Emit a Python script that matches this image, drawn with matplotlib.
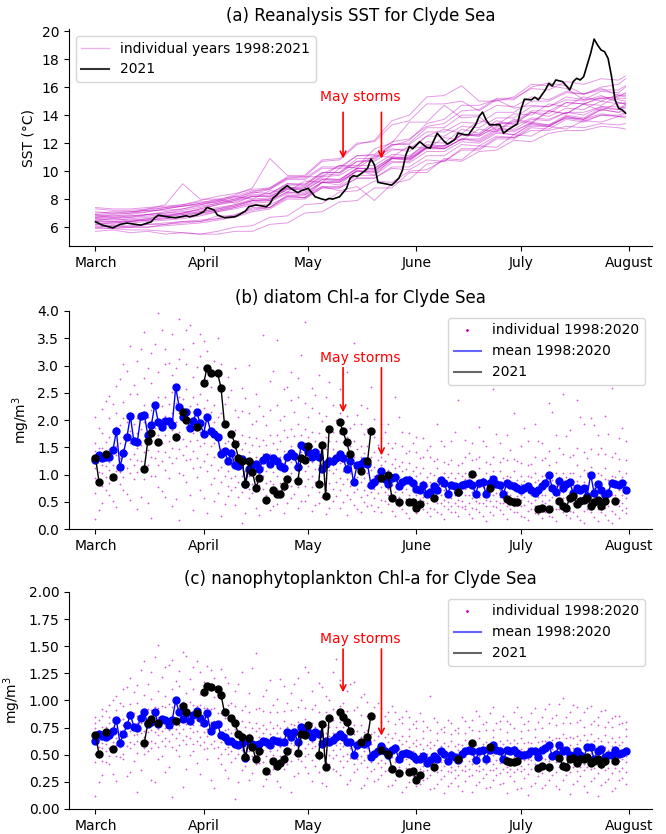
"""
Clyde Sea SST and phytoplankton Chl-a, spring/summer 2021 against 1998-2020.
"""
import numpy as np
import matplotlib
matplotlib.use('Agg')
import matplotlib.pyplot as plt
import matplotlib.dates as mdates
from matplotlib.lines import Line2D

# ---------------------------------------------------------------- data
# days are counted from 1 March
START = np.datetime64('2021-03-01')

# SST of the individual years, one value every 5 days
sst_days = [0, 5, 10, 15, 20, 25, 30, 35, 40, 45, 50, 55, 60, 65, 70, 75,
            80, 85, 90, 95, 100, 105, 110, 115, 120, 125, 130, 135, 140, 145, 150, 152]
sst_years = [
    [7.4, 7.3, 7.3, 7.4, 7.5, 7.6, 7.8, 7.9, 8.1, 8.5, 8.4, 9.1, 9.0, 9.8, 10.4, 10.2, 11.0, 11.6, 11.4, 12.5, 13.0, 12.7, 13.6, 13.3, 14.1, 14.0, 14.8, 14.6, 15.3, 15.0, 15.5, 15.5],
    [5.7, 5.8, 5.6, 5.7, 5.5, 5.6, 5.5, 5.7, 6.0, 6.1, 6.7, 6.8, 7.6, 7.7, 8.5, 8.6, 9.3, 9.2, 10.0, 10.1, 10.8, 10.7, 11.4, 11.5, 12.2, 12.1, 12.7, 12.9, 12.9, 13.2, 13.1, 13.0],
    [6.2, 6.1, 6.0, 6.2, 6.2, 6.4, 6.4, 6.8, 6.8, 7.4, 7.4, 8.3, 8.1, 9.2, 9.0, 10.1, 9.7, 10.9, 11.0, 12.1, 12.0, 13.0, 12.7, 13.6, 13.3, 14.2, 13.9, 14.5, 14.4, 15.0, 14.8, 14.9],
    [6.9, 6.8, 6.9, 7.1, 7.3, 7.5, 7.7, 7.8, 8.2, 8.0, 8.6, 8.5, 9.3, 9.2, 10.2, 10.3, 11.6, 12.0, 13.5, 13.5, 14.7, 13.8, 13.9, 12.9, 13.7, 13.5, 14.3, 14.1, 14.8, 14.3, 14.9, 14.8],
    [6.8, 6.9, 7.0, 7.3, 7.6, 9.1, 8.0, 8.0, 7.7, 8.2, 8.2, 8.8, 8.6, 9.4, 9.3, 10.0, 10.0, 10.9, 10.8, 11.7, 11.6, 12.3, 12.1, 12.8, 12.6, 13.4, 13.2, 13.9, 13.7, 14.4, 14.2, 14.6],
    [6.5, 6.6, 6.7, 6.9, 7.1, 7.3, 7.6, 7.9, 8.3, 8.8, 10.9, 9.7, 9.6, 9.6, 10.4, 10.4, 11.1, 11.0, 11.8, 11.6, 12.4, 12.2, 13.0, 12.8, 13.6, 13.4, 14.3, 14.1, 14.8, 14.7, 15.4, 15.4],
    [6.4, 6.4, 6.5, 6.6, 6.8, 7.0, 7.3, 7.6, 7.9, 8.4, 8.7, 9.5, 9.6, 10.7, 10.8, 11.9, 12.2, 13.6, 14.0, 15.3, 15.4, 16.1, 15.0, 15.0, 15.3, 16.2, 16.1, 15.9, 15.1, 15.2, 15.3, 15.6],
    [6.0, 5.9, 5.8, 5.8, 5.7, 5.6, 5.5, 5.5, 5.7, 5.7, 6.2, 6.3, 7.0, 7.1, 7.8, 7.9, 8.8, 8.8, 9.9, 9.9, 10.9, 10.8, 11.8, 11.7, 12.6, 12.5, 13.2, 13.0, 13.6, 13.5, 13.9, 13.9],
    [7.0, 7.1, 7.1, 7.2, 7.2, 7.3, 7.5, 7.7, 7.9, 8.2, 8.2, 8.8, 8.8, 9.5, 9.4, 10.2, 10.2, 11.0, 10.9, 11.7, 11.6, 12.3, 12.3, 13.0, 13.0, 13.7, 13.6, 14.2, 14.0, 14.6, 14.4, 14.7],
    [6.7, 6.7, 6.8, 6.9, 7.0, 7.2, 7.4, 7.7, 8.0, 8.5, 8.8, 9.6, 9.7, 10.8, 10.9, 12.0, 12.1, 13.3, 13.6, 14.8, 14.8, 15.0, 14.3, 15.1, 15.1, 16.0, 16.3, 16.1, 15.5, 16.0, 16.2, 16.6],
    [6.3, 6.2, 6.3, 6.4, 6.5, 6.6, 6.8, 7.1, 7.4, 7.8, 7.9, 8.5, 8.5, 9.2, 9.2, 10.0, 9.9, 10.7, 10.6, 11.4, 11.4, 12.1, 12.0, 12.7, 12.6, 13.3, 13.2, 13.8, 13.6, 14.0, 14.0, 14.2],
    [7.3, 7.2, 7.2, 7.3, 7.4, 7.5, 7.6, 7.8, 8.0, 8.3, 8.4, 9.1, 9.1, 9.9, 9.9, 10.7, 10.7, 11.5, 11.6, 12.5, 12.5, 13.2, 13.1, 13.8, 13.8, 14.6, 14.6, 15.3, 15.1, 15.7, 15.6, 16.0],
    [6.1, 6.0, 6.0, 6.0, 6.1, 6.2, 6.3, 6.5, 6.7, 7.1, 7.3, 8.0, 8.0, 8.8, 8.8, 9.5, 9.5, 10.2, 10.1, 10.8, 10.7, 11.5, 11.5, 12.3, 12.3, 13.1, 13.0, 13.7, 13.5, 14.0, 13.9, 14.1],
    [6.6, 6.5, 6.6, 6.7, 6.8, 6.9, 7.0, 7.2, 7.4, 7.7, 7.8, 8.4, 8.3, 8.9, 8.6, 8.9, 7.9, 9.1, 9.4, 10.5, 10.7, 11.6, 11.6, 12.4, 12.4, 13.2, 13.2, 13.9, 13.7, 14.4, 14.2, 14.3],
    [6.9, 7.0, 7.0, 7.1, 7.3, 7.5, 7.7, 8.0, 8.2, 8.6, 8.7, 9.4, 9.4, 10.2, 10.2, 11.1, 11.2, 12.1, 12.3, 13.2, 13.4, 14.3, 14.4, 15.2, 15.2, 15.9, 15.8, 16.4, 16.2, 16.6, 16.5, 16.8],
    [6.4, 6.3, 6.4, 6.5, 6.6, 6.8, 7.0, 7.2, 7.5, 7.9, 8.0, 8.7, 8.7, 9.4, 9.4, 10.2, 10.1, 10.9, 10.8, 11.6, 11.6, 12.3, 12.2, 12.9, 12.8, 13.5, 13.3, 14.0, 13.8, 14.5, 14.4, 14.8],
    [5.9, 5.9, 6.0, 6.0, 6.2, 6.3, 6.4, 6.6, 6.8, 7.2, 7.4, 8.2, 8.3, 9.2, 9.3, 10.2, 10.2, 11.0, 11.0, 11.8, 11.8, 12.6, 12.6, 13.4, 13.4, 14.2, 14.1, 14.9, 14.8, 15.3, 15.2, 15.2],
    [6.7, 6.8, 6.8, 6.9, 7.0, 7.1, 7.2, 7.4, 7.6, 7.9, 7.9, 8.5, 8.4, 9.2, 9.2, 10.0, 10.0, 10.9, 10.9, 11.7, 11.8, 12.6, 12.5, 13.1, 12.9, 13.4, 13.3, 13.8, 13.7, 14.1, 13.9, 13.8],
    [6.2, 6.3, 6.4, 6.6, 6.8, 7.0, 7.3, 7.6, 7.8, 8.2, 8.3, 9.0, 9.0, 9.9, 9.9, 10.9, 10.9, 11.9, 12.0, 13.1, 13.1, 14.0, 14.0, 14.7, 14.6, 15.3, 15.1, 15.7, 15.5, 15.9, 15.4, 15.3],
    [6.6, 6.6, 6.5, 6.5, 6.6, 6.7, 6.9, 7.1, 7.3, 7.6, 7.6, 8.2, 8.1, 8.8, 8.8, 9.5, 9.5, 10.3, 10.3, 11.1, 11.1, 11.9, 11.8, 12.5, 12.4, 12.9, 12.9, 13.2, 13.1, 13.4, 13.3, 13.4],
    [7.1, 7.0, 7.1, 7.2, 7.4, 7.6, 7.9, 8.2, 8.4, 8.7, 8.8, 9.5, 9.5, 10.3, 10.3, 11.1, 11.1, 11.9, 11.9, 12.8, 12.8, 13.5, 13.4, 14.2, 14.2, 15.0, 15.0, 15.6, 15.5, 15.8, 15.8, 16.1],
    [6.0, 6.1, 6.1, 6.2, 6.3, 6.4, 6.5, 6.6, 6.9, 7.3, 7.4, 8.1, 8.1, 8.9, 8.9, 9.7, 9.7, 10.6, 10.7, 11.7, 11.7, 12.6, 12.5, 13.2, 13.2, 13.8, 13.7, 14.2, 14.2, 14.6, 14.6, 14.5],
    [6.5, 6.4, 6.4, 6.5, 6.7, 6.9, 7.1, 7.3, 7.5, 7.9, 8.0, 8.7, 8.8, 9.7, 9.8, 10.7, 10.8, 11.8, 12.2, 13.4, 13.7, 14.7, 14.7, 15.1, 14.5, 14.7, 14.6, 15.1, 15.0, 15.4, 14.9, 14.8],
    [6.8, 6.7, 6.7, 6.8, 6.9, 7.0, 7.1, 7.3, 7.6, 8.0, 8.1, 8.8, 8.9, 9.6, 9.7, 10.4, 10.4, 11.2, 11.1, 11.9, 11.8, 12.6, 12.6, 13.4, 13.5, 14.3, 14.3, 14.9, 14.8, 15.2, 15.1, 15.0],
]

# SST 2021
sst21_days = [0, 2, 5, 7, 9, 13, 16, 17, 18, 21, 23, 26, 27, 29, 31, 32, 34, 35, 37, 40,
              41, 43, 44, 46, 49, 50, 51, 52, 53, 55, 56, 58, 59, 61, 63, 65, 66, 67, 68, 70,
              72, 73, 74, 75, 77, 78, 79, 80, 81, 85, 87, 88, 89, 90, 91, 93, 95, 96, 98, 100,
              101, 103, 104, 106, 107, 109, 110, 111, 112, 113, 116, 117, 118, 119, 121, 122, 123, 125, 126, 127,
              129, 130, 131, 132, 134, 136, 137, 138, 139, 140, 141, 142, 143, 144, 145, 146, 147, 148, 149, 150,
              151, 152]
sst21 = [6.38, 6.14, 5.95, 6.19, 6.29, 6.14, 6.38, 6.67, 6.86, 6.72, 6.67, 6.81, 6.74, 6.86, 7.10, 7.41, 7.22, 6.86, 6.67, 6.74,
         6.86, 7.15, 7.46, 7.58, 7.46, 7.67, 8.10, 8.29, 8.60, 8.96, 8.77, 8.46, 8.60, 8.77, 8.17, 8.00, 7.94, 8.05, 8.00, 8.17,
         8.77, 9.49, 9.68, 9.61, 9.97, 10.20, 10.87, 10.44, 9.20, 9.00, 9.49, 10.04, 11.16, 11.76, 11.60, 12.10, 11.69, 11.64, 12.71, 12.12,
         11.93, 12.24, 12.71, 12.60, 12.60, 13.31, 13.90, 14.22, 13.67, 13.31, 13.31, 12.71, 12.90, 13.07, 13.38, 14.38, 15.14, 15.09, 15.28, 15.09,
         15.80, 16.27, 16.08, 16.51, 16.39, 15.80, 16.40, 16.63, 16.51, 16.75, 17.58, 18.41, 19.43, 19.00, 18.65, 18.53, 18.05, 16.75, 15.09, 14.50,
         14.38, 14.14]

# daily climatological mean 1998:2020, days 0..152
mean_days = list(range(153))
diatom_mean = [
    1.27, 1.35, 1.30, 1.32, 1.33, 1.45, 1.80, 1.14, 1.39, 1.68,
    2.07, 1.61, 1.60, 2.07, 2.10, 1.72, 1.90, 2.28, 1.97, 1.88,
    1.98, 1.98, 1.91, 2.60, 2.24, 2.06, 2.15, 1.85, 1.98, 2.15,
    1.94, 1.75, 2.05, 1.80, 1.74, 1.69, 1.38, 1.44, 1.24, 1.39,
    1.17, 1.15, 1.29, 0.82, 1.11, 1.17, 1.19, 1.11, 1.26, 1.32,
    1.19, 1.30, 1.24, 1.16, 1.12, 1.33, 1.39, 1.34, 1.14, 1.55,
    1.51, 1.42, 1.33, 1.42, 1.33, 1.11, 1.20, 1.24, 1.24, 1.31,
    1.37, 1.30, 1.11, 1.25, 0.86, 1.17, 1.20, 1.25, 1.19, 0.81,
    0.87, 0.93, 1.06, 0.92, 0.82, 0.93, 0.96, 0.78, 0.87, 0.90,
    0.90, 0.84, 0.73, 0.72, 0.80, 0.65, 0.68, 0.78, 0.72, 0.89,
    0.84, 0.65, 0.81, 0.78, 0.68, 0.81, 0.83, 0.84, 0.81, 0.65,
    0.84, 0.87, 0.65, 0.84, 0.92, 0.82, 0.81, 0.65, 0.84, 0.81,
    0.78, 0.75, 0.72, 0.75, 0.78, 0.72, 0.66, 0.72, 0.78, 0.84,
    1.00, 0.75, 0.67, 0.88, 0.75, 0.83, 0.86, 0.66, 0.75, 0.72,
    0.75, 0.61, 1.00, 0.66, 0.83, 0.72, 0.63, 0.66, 0.85, 0.83,
    0.81, 0.84, 0.71]
nano_mean = [
    0.63, 0.69, 0.67, 0.66, 0.68, 0.72, 0.82, 0.61, 0.69, 0.77,
    0.87, 0.76, 0.75, 0.84, 0.89, 0.78, 0.80, 0.89, 0.78, 0.83,
    0.82, 0.77, 0.82, 1.00, 0.89, 0.83, 0.88, 0.81, 0.87, 0.90,
    0.84, 0.79, 0.88, 0.72, 0.77, 0.78, 0.68, 0.66, 0.63, 0.63,
    0.60, 0.59, 0.61, 0.47, 0.62, 0.60, 0.59, 0.60, 0.63, 0.62,
    0.59, 0.64, 0.63, 0.62, 0.62, 0.71, 0.66, 0.71, 0.62, 0.76,
    0.72, 0.71, 0.66, 0.71, 0.69, 0.60, 0.63, 0.62, 0.64, 0.66,
    0.69, 0.66, 0.62, 0.62, 0.50, 0.59, 0.61, 0.60, 0.62, 0.48,
    0.51, 0.53, 0.58, 0.53, 0.50, 0.54, 0.56, 0.46, 0.51, 0.52,
    0.51, 0.49, 0.46, 0.46, 0.49, 0.42, 0.45, 0.49, 0.46, 0.53,
    0.51, 0.44, 0.50, 0.48, 0.45, 0.51, 0.53, 0.54, 0.53, 0.45,
    0.53, 0.54, 0.46, 0.54, 0.59, 0.54, 0.53, 0.46, 0.54, 0.53,
    0.54, 0.52, 0.50, 0.50, 0.51, 0.53, 0.53, 0.48, 0.54, 0.56,
    0.59, 0.49, 0.51, 0.59, 0.53, 0.54, 0.50, 0.49, 0.53, 0.50,
    0.47, 0.57, 0.57, 0.46, 0.53, 0.55, 0.48, 0.50, 0.50, 0.54,
    0.51, 0.52, 0.53]

# 2021 satellite days with valid data
obs21_days = [0, 1, 3, 5, 14, 15, 16, 18, 23, 25, 26, 29, 31, 32, 33, 35, 36, 37, 39, 40,
              41, 42, 43, 44, 45, 46, 47, 49, 51, 52, 53, 54, 55, 58, 59, 60, 61, 64, 65, 66,
              67, 70, 71, 72, 73, 76, 78, 79, 82, 84, 85, 87, 90, 91, 92, 93, 97, 104, 108, 113,
              118, 119, 120, 121, 127, 128, 130, 133, 134, 135, 136, 137, 138, 139, 140, 141, 142, 143, 144, 145,
              146, 149]
diatom21 = [1.31, 0.87, 1.37, 0.96, 1.11, 1.62, 1.76, 1.59, 1.68, 2.15, 2.00, 1.87, 2.67, 2.96, 2.86, 2.86, 2.59, 1.92, 1.74, 1.56,
            1.30, 1.25, 0.83, 1.24, 1.05, 0.76, 0.93, 0.53, 0.72, 0.64, 0.65, 0.78, 0.92, 0.88, 1.30, 1.27, 1.53, 0.83, 1.55, 0.61,
            1.83, 1.97, 1.79, 1.59, 1.37, 1.06, 1.24, 1.80, 0.93, 1.00, 0.57, 0.49, 0.49, 0.50, 0.38, 0.45, 0.56, 0.67, 1.01, 0.76,
            0.55, 0.52, 0.50, 0.49, 0.36, 0.39, 0.37, 0.51, 0.43, 0.39, 0.57, 0.61, 0.46, 0.51, 0.54, 0.57, 0.43, 0.49, 0.54, 0.43,
            0.52, 0.51]
nano21 = [0.68, 0.51, 0.71, 0.55, 0.61, 0.79, 0.83, 0.79, 0.81, 0.95, 0.89, 0.88, 1.08, 1.13, 1.12, 1.11, 1.05, 0.89, 0.84, 0.79,
          0.69, 0.66, 0.48, 0.65, 0.57, 0.46, 0.53, 0.35, 0.44, 0.40, 0.42, 0.46, 0.53, 0.52, 0.69, 0.68, 0.77, 0.50, 0.78, 0.39,
          0.84, 0.89, 0.85, 0.80, 0.72, 0.62, 0.66, 0.86, 0.54, 0.51, 0.37, 0.33, 0.34, 0.35, 0.27, 0.31, 0.39, 0.46, 0.61, 0.57,
          0.44, 0.43, 0.43, 0.44, 0.38, 0.40, 0.39, 0.47, 0.40, 0.39, 0.46, 0.47, 0.42, 0.46, 0.46, 0.48, 0.42, 0.44, 0.46, 0.41,
          0.44, 0.44]

# individual years 1998:2020, a sample of values on even and odd days
even_days = list(range(0, 153, 2))
odd_days = list(range(1, 152, 2))
diatom_even = [
    [0.18, 0.66, 0.93, 1.12, 1.22, 1.43, 1.58, 2.05], [0.47, 0.79, 1.03, 1.18, 1.37, 1.49, 1.77, 2.21],
    [0.62, 0.84, 1.08, 1.23, 1.46, 1.68, 2.03, 2.44], [0.41, 0.91, 1.07, 1.36, 1.52, 1.88, 2.13, 2.62],
    [0.72, 0.96, 1.18, 1.47, 1.68, 2.03, 2.33, 3.02], [0.53, 1.02, 1.28, 1.57, 1.79, 2.12, 2.48, 3.36],
    [0.36, 1.04, 1.27, 1.48, 1.77, 2.03, 2.47, 3.08], [0.91, 1.13, 1.42, 1.63, 1.97, 2.28, 2.77, 3.61],
    [0.21, 0.98, 1.32, 1.58, 1.92, 2.18, 2.67, 3.23], [0.77, 1.17, 1.43, 1.72, 1.98, 2.42, 2.88, 3.96],
    [0.58, 1.08, 1.42, 1.73, 2.07, 2.43, 3.02, 3.31], [0.42, 1.22, 1.48, 1.82, 2.13, 2.52, 2.83, 3.57],
    [0.16, 1.03, 1.47, 1.78, 2.12, 2.43, 3.12, 3.86], [0.86, 1.27, 1.53, 1.87, 2.13, 2.57, 3.03, 3.66],
    [0.34, 1.12, 1.43, 1.77, 2.03, 2.42, 2.78, 3.42], [0.71, 1.13, 1.52, 1.78, 2.12, 2.48, 3.17, 3.58],
    [0.29, 1.07, 1.38, 1.72, 1.98, 2.37, 2.73, 3.27], [0.52, 0.93, 1.32, 1.58, 1.97, 2.28, 2.87, 3.08],
    [0.24, 0.87, 1.13, 1.47, 1.73, 2.12, 2.58, 3.02], [0.61, 0.78, 1.07, 1.28, 1.62, 1.93, 2.42, 2.78],
    [0.44, 0.77, 0.98, 1.27, 1.48, 1.82, 2.18, 2.96], [0.11, 0.68, 0.97, 1.18, 1.47, 1.73, 2.17, 2.58],
    [0.56, 0.73, 0.97, 1.13, 1.42, 1.68, 2.12, 3.01], [0.39, 0.72, 0.88, 1.12, 1.33, 1.67, 1.98, 2.47],
    [0.51, 0.73, 0.97, 1.13, 1.37, 1.63, 2.07, 3.56], [0.34, 0.72, 0.88, 1.17, 1.38, 1.72, 2.18, 2.72],
    [0.46, 0.73, 0.97, 1.18, 1.47, 1.73, 2.27, 3.46], [0.29, 0.72, 0.93, 1.22, 1.43, 1.82, 2.08, 2.57],
    [0.57, 0.78, 1.02, 1.23, 1.52, 1.83, 2.37, 2.88], [0.38, 0.77, 0.98, 1.27, 1.53, 1.92, 2.43, 2.77],
    [0.52, 0.78, 1.07, 1.28, 1.57, 1.83, 2.32, 3.79], [0.33, 0.77, 0.98, 1.23, 1.52, 1.78, 2.22, 2.58],
    [0.47, 0.68, 0.97, 1.18, 1.43, 1.77, 2.12, 2.83], [0.28, 0.72, 0.93, 1.22, 1.47, 1.68, 2.07, 2.42],
    [0.52, 0.73, 1.02, 1.18, 1.47, 1.78, 2.27, 3.13], [0.38, 0.72, 0.93, 1.22, 1.43, 1.77, 2.13, 2.57],
    [0.26, 0.63, 0.92, 1.13, 1.42, 1.68, 2.07, 2.88], [0.44, 0.67, 0.83, 1.12, 1.33, 1.62, 1.93, 3.42],
    [0.31, 0.58, 0.87, 1.03, 1.32, 1.53, 1.92, 2.28], [0.42, 0.62, 0.78, 1.02, 1.23, 1.52, 1.83, 2.22],
    [0.33, 0.57, 0.73, 0.97, 1.13, 1.42, 1.68, 2.02], [0.31, 0.53, 0.77, 0.93, 1.17, 1.33, 1.67, 1.93],
    [0.46, 0.62, 0.73, 0.92, 1.08, 1.37, 1.58, 1.92], [0.24, 0.52, 0.68, 0.92, 1.12, 1.28, 1.57, 2.42],
    [0.36, 0.48, 0.67, 0.83, 1.07, 1.23, 1.52, 1.78], [0.21, 0.47, 0.63, 0.82, 0.98, 1.22, 1.43, 1.77],
    [0.29, 0.43, 0.62, 0.73, 0.97, 1.13, 1.42, 1.68], [0.37, 0.52, 0.58, 0.77, 0.88, 1.12, 1.33, 1.67],
    [0.24, 0.38, 0.57, 0.68, 0.87, 1.03, 1.32, 1.53], [0.31, 0.47, 0.58, 0.77, 0.88, 1.12, 1.28, 1.92],
    [0.19, 0.42, 0.53, 0.72, 0.83, 1.02, 1.23, 1.52], [0.32, 0.43, 0.57, 0.68, 0.87, 1.03, 1.27, 1.62],
    [0.24, 0.42, 0.53, 0.72, 0.83, 1.02, 1.18, 2.37], [0.36, 0.43, 0.62, 0.73, 0.92, 1.03, 1.32, 1.63],
    [0.21, 0.38, 0.57, 0.68, 0.87, 1.03, 1.27, 1.57], [0.32, 0.47, 0.58, 0.77, 0.88, 1.12, 1.33, 1.87],
    [0.14, 0.42, 0.53, 0.72, 0.83, 1.02, 1.23, 1.52], [0.26, 0.43, 0.62, 0.73, 0.92, 1.07, 1.32, 2.56],
    [0.34, 0.47, 0.58, 0.72, 0.83, 1.07, 1.23, 1.57], [0.19, 0.42, 0.53, 0.68, 0.87, 0.98, 1.27, 1.72],
    [0.31, 0.43, 0.57, 0.72, 0.83, 1.07, 1.28, 2.12], [0.24, 0.42, 0.53, 0.63, 0.82, 0.98, 1.22, 1.53],
    [0.16, 0.33, 0.52, 0.67, 0.78, 0.97, 1.18, 1.62], [0.29, 0.42, 0.53, 0.72, 0.87, 1.03, 1.32, 1.93],
    [0.21, 0.33, 0.52, 0.63, 0.82, 0.98, 1.27, 1.57], [0.24, 0.42, 0.53, 0.72, 0.88, 1.17, 1.43, 2.32],
    [0.14, 0.37, 0.48, 0.67, 0.78, 1.02, 1.23, 1.72], [0.31, 0.43, 0.57, 0.68, 0.87, 1.03, 1.37, 2.48],
    [0.21, 0.33, 0.52, 0.63, 0.87, 1.03, 1.33, 1.82], [0.24, 0.42, 0.53, 0.72, 0.88, 1.17, 1.48, 2.37],
    [0.11, 0.33, 0.52, 0.63, 0.87, 1.08, 1.42, 1.93], [0.31, 0.38, 0.57, 0.68, 0.92, 1.13, 1.47, 2.03],
    [0.14, 0.37, 0.48, 0.67, 0.83, 1.03, 1.37, 1.73], [0.26, 0.38, 0.57, 0.68, 0.92, 1.12, 1.38, 2.07],
    [0.11, 0.33, 0.52, 0.63, 0.82, 0.98, 1.32, 2.58], [0.21, 0.42, 0.53, 0.72, 0.83, 1.07, 1.28, 1.67],
    [0.29, 0.38, 0.57, 0.68, 0.87, 1.03, 1.27, 1.62],
]
diatom_odd = [
    [0.35, 0.88, 1.05, 1.30, 1.48, 1.85], [0.72, 0.95, 1.15, 1.38, 1.60, 2.35], [0.52, 0.98, 1.17, 1.42, 1.78, 2.30],
    [0.83, 1.05, 1.30, 1.58, 1.90, 2.75], [0.64, 1.12, 1.40, 1.66, 1.96, 2.90], [0.92, 1.17, 1.38, 1.65, 1.93, 2.65],
    [0.58, 1.24, 1.55, 1.83, 2.12, 3.30], [0.48, 1.18, 1.45, 1.80, 2.05, 2.95], [0.98, 1.30, 1.58, 1.86, 2.22, 3.40],
    [0.69, 1.25, 1.57, 1.88, 2.25, 3.65], [0.93, 1.33, 1.62, 1.96, 2.30, 3.05], [0.55, 1.30, 1.63, 1.97, 2.32, 2.95],
    [0.99, 1.36, 1.66, 2.00, 2.38, 3.30], [0.62, 1.29, 1.62, 1.95, 2.26, 3.75], [0.95, 1.31, 1.64, 1.95, 2.30, 2.98],
    [0.56, 1.25, 1.58, 1.88, 2.22, 3.45], [0.82, 1.18, 1.52, 1.82, 2.15, 2.60], [0.66, 1.08, 1.40, 1.72, 2.05, 3.50],
    [0.45, 0.98, 1.28, 1.57, 1.88, 2.30], [0.71, 0.93, 1.18, 1.45, 1.75, 2.55], [0.58, 0.86, 1.10, 1.36, 1.62, 2.05],
    [0.30, 0.83, 1.06, 1.30, 1.58, 2.40], [0.66, 0.82, 1.04, 1.27, 1.55, 1.92], [0.25, 0.80, 1.02, 1.26, 1.52, 2.25],
    [0.62, 0.84, 1.06, 1.28, 1.55, 1.90], [0.43, 0.82, 1.04, 1.30, 1.58, 2.90], [0.60, 0.85, 1.08, 1.33, 1.62, 2.00],
    [0.48, 0.88, 1.12, 1.38, 1.68, 2.60], [0.65, 0.90, 1.14, 1.40, 1.70, 2.15], [0.52, 0.89, 1.15, 1.42, 1.72, 3.20],
    [0.63, 0.92, 1.16, 1.42, 1.68, 2.05], [0.44, 0.86, 1.10, 1.36, 1.62, 2.45], [0.58, 0.84, 1.08, 1.32, 1.60, 1.98],
    [0.38, 0.85, 1.09, 1.33, 1.62, 2.70], [0.60, 0.86, 1.10, 1.34, 1.62, 2.00], [0.49, 0.82, 1.06, 1.31, 1.60, 2.85],
    [0.55, 0.78, 1.02, 1.25, 1.52, 1.85], [0.37, 0.74, 0.96, 1.20, 1.46, 2.10], [0.50, 0.72, 0.93, 1.16, 1.40, 1.75],
    [0.44, 0.68, 0.88, 1.09, 1.32, 2.60], [0.40, 0.66, 0.85, 1.05, 1.27, 1.55], [0.52, 0.67, 0.84, 1.02, 1.24, 1.78],
    [0.33, 0.62, 0.80, 0.99, 1.20, 1.48], [0.43, 0.58, 0.76, 0.95, 1.16, 2.05], [0.29, 0.55, 0.73, 0.91, 1.10, 1.40],
    [0.38, 0.53, 0.70, 0.86, 1.06, 1.58], [0.41, 0.55, 0.68, 0.84, 1.02, 1.30], [0.32, 0.48, 0.63, 0.79, 0.96, 1.45],
    [0.36, 0.52, 0.67, 0.82, 1.00, 1.25], [0.27, 0.48, 0.62, 0.78, 0.94, 1.62], [0.37, 0.50, 0.63, 0.78, 0.95, 1.20],
    [0.31, 0.47, 0.62, 0.77, 0.93, 1.78], [0.41, 0.52, 0.67, 0.82, 0.98, 1.22], [0.28, 0.47, 0.62, 0.77, 0.95, 1.40],
    [0.36, 0.52, 0.66, 0.82, 0.99, 1.28], [0.23, 0.47, 0.61, 0.77, 0.93, 1.62], [0.32, 0.52, 0.67, 0.82, 0.98, 1.20],
    [0.41, 0.52, 0.66, 0.79, 0.96, 1.75], [0.27, 0.47, 0.61, 0.77, 0.93, 1.30], [0.37, 0.50, 0.63, 0.78, 0.95, 1.45],
    [0.31, 0.47, 0.60, 0.73, 0.90, 1.25], [0.22, 0.44, 0.58, 0.72, 0.88, 1.85], [0.36, 0.47, 0.62, 0.78, 0.95, 1.20],
    [0.27, 0.43, 0.58, 0.72, 0.90, 1.62], [0.32, 0.47, 0.62, 0.79, 1.00, 1.30], [0.22, 0.43, 0.58, 0.73, 0.90, 2.15],
    [0.37, 0.50, 0.63, 0.78, 0.96, 1.48], [0.26, 0.43, 0.58, 0.75, 0.95, 1.70], [0.31, 0.47, 0.62, 0.80, 1.02, 1.35],
    [0.17, 0.42, 0.58, 0.75, 0.97, 2.05], [0.36, 0.47, 0.62, 0.80, 1.02, 1.30], [0.22, 0.43, 0.58, 0.75, 0.95, 1.90],
    [0.32, 0.47, 0.62, 0.80, 1.00, 1.48], [0.17, 0.42, 0.58, 0.73, 0.90, 1.75], [0.27, 0.47, 0.62, 0.78, 0.95, 1.40],
    [0.35, 0.47, 0.62, 0.78, 0.95, 1.85],
]
nano_even = [
    [0.12, 0.43, 0.51, 0.61, 0.66, 0.75, 0.79, 0.85], [0.31, 0.44, 0.56, 0.61, 0.71, 0.76, 0.86, 0.92],
    [0.41, 0.49, 0.56, 0.65, 0.70, 0.79, 0.85, 0.96], [0.26, 0.49, 0.59, 0.65, 0.75, 0.81, 0.91, 1.04],
    [0.46, 0.51, 0.61, 0.67, 0.77, 0.83, 0.95, 1.11], [0.34, 0.56, 0.62, 0.72, 0.78, 0.89, 0.97, 1.21],
    [0.16, 0.52, 0.63, 0.69, 0.79, 0.86, 0.98, 1.14], [0.51, 0.56, 0.66, 0.72, 0.83, 0.91, 1.05, 1.36],
    [0.27, 0.56, 0.63, 0.73, 0.80, 0.91, 1.01, 1.26], [0.46, 0.57, 0.68, 0.74, 0.85, 0.93, 1.09, 1.51],
    [0.34, 0.58, 0.65, 0.75, 0.82, 0.94, 1.04, 1.31], [0.11, 0.57, 0.69, 0.75, 0.86, 0.94, 1.11, 1.37],
    [0.49, 0.59, 0.70, 0.77, 0.88, 0.96, 1.13, 1.27], [0.37, 0.60, 0.67, 0.78, 0.85, 0.97, 1.07, 1.41],
    [0.53, 0.60, 0.71, 0.77, 0.88, 0.96, 1.11, 1.31], [0.32, 0.59, 0.66, 0.77, 0.84, 0.96, 1.06, 1.26],
    [0.46, 0.56, 0.67, 0.74, 0.85, 0.93, 1.07, 1.32], [0.19, 0.56, 0.63, 0.74, 0.81, 0.93, 1.03, 1.21],
    [0.41, 0.51, 0.62, 0.69, 0.80, 0.88, 1.02, 1.29], [0.29, 0.51, 0.57, 0.67, 0.74, 0.86, 0.96, 1.16],
    [0.09, 0.47, 0.57, 0.63, 0.74, 0.81, 0.95, 1.09], [0.36, 0.48, 0.54, 0.64, 0.70, 0.81, 0.91, 1.26],
    [0.27, 0.46, 0.53, 0.63, 0.69, 0.80, 0.89, 1.07], [0.41, 0.45, 0.56, 0.62, 0.72, 0.79, 0.92, 1.44],
    [0.21, 0.43, 0.54, 0.60, 0.70, 0.77, 0.90, 1.04], [0.32, 0.46, 0.53, 0.63, 0.69, 0.80, 0.89, 1.19],
    [0.26, 0.43, 0.54, 0.60, 0.70, 0.77, 0.89, 1.01], [0.37, 0.47, 0.54, 0.64, 0.70, 0.81, 0.90, 1.13],
    [0.16, 0.44, 0.55, 0.61, 0.71, 0.78, 0.91, 1.07], [0.33, 0.46, 0.57, 0.63, 0.73, 0.80, 0.94, 1.21],
    [0.39, 0.49, 0.56, 0.66, 0.72, 0.83, 0.93, 1.31], [0.26, 0.45, 0.56, 0.62, 0.72, 0.79, 0.92, 1.09],
    [0.34, 0.46, 0.53, 0.63, 0.69, 0.80, 0.89, 1.16], [0.21, 0.43, 0.54, 0.60, 0.70, 0.77, 0.89, 1.04],
    [0.37, 0.47, 0.54, 0.64, 0.70, 0.82, 0.92, 1.26], [0.31, 0.44, 0.55, 0.61, 0.72, 0.80, 0.95, 1.19],
    [0.23, 0.44, 0.51, 0.61, 0.68, 0.80, 0.90, 1.09], [0.34, 0.41, 0.52, 0.58, 0.69, 0.77, 0.91, 1.17],
    [0.19, 0.42, 0.49, 0.59, 0.66, 0.77, 0.87, 1.03], [0.29, 0.39, 0.50, 0.56, 0.66, 0.73, 0.86, 0.99],
    [0.26, 0.37, 0.48, 0.54, 0.64, 0.71, 0.84, 0.94], [0.31, 0.39, 0.45, 0.55, 0.61, 0.72, 0.80, 0.93],
    [0.21, 0.36, 0.46, 0.52, 0.62, 0.69, 0.81, 0.89], [0.27, 0.37, 0.43, 0.53, 0.59, 0.70, 0.78, 0.89],
    [0.16, 0.34, 0.44, 0.50, 0.60, 0.67, 0.79, 0.85], [0.25, 0.35, 0.41, 0.51, 0.57, 0.67, 0.74, 0.85],
    [0.21, 0.32, 0.42, 0.48, 0.58, 0.64, 0.75, 0.81], [0.27, 0.35, 0.40, 0.49, 0.55, 0.65, 0.72, 0.81],
    [0.18, 0.31, 0.41, 0.46, 0.56, 0.62, 0.73, 1.04], [0.23, 0.34, 0.39, 0.48, 0.54, 0.64, 0.70, 0.80],
    [0.15, 0.30, 0.40, 0.45, 0.55, 0.61, 0.71, 0.76], [0.24, 0.34, 0.39, 0.48, 0.53, 0.63, 0.69, 0.79],
    [0.21, 0.31, 0.40, 0.45, 0.54, 0.60, 0.70, 0.75], [0.26, 0.35, 0.40, 0.49, 0.54, 0.64, 0.70, 0.81],
    [0.16, 0.31, 0.41, 0.46, 0.56, 0.62, 0.73, 0.82], [0.25, 0.35, 0.40, 0.49, 0.55, 0.65, 0.72, 0.86],
    [0.19, 0.32, 0.41, 0.46, 0.56, 0.62, 0.73, 0.80], [0.27, 0.36, 0.41, 0.50, 0.56, 0.66, 0.73, 0.94],
    [0.23, 0.33, 0.42, 0.47, 0.57, 0.63, 0.74, 0.81], [0.15, 0.34, 0.39, 0.48, 0.54, 0.64, 0.71, 0.81],
    [0.26, 0.34, 0.43, 0.48, 0.58, 0.64, 0.75, 0.89], [0.19, 0.35, 0.40, 0.49, 0.55, 0.65, 0.72, 0.85],
    [0.13, 0.32, 0.41, 0.46, 0.56, 0.62, 0.73, 0.81], [0.24, 0.36, 0.41, 0.50, 0.56, 0.66, 0.74, 0.93],
    [0.19, 0.33, 0.42, 0.47, 0.57, 0.63, 0.75, 0.85], [0.27, 0.35, 0.44, 0.49, 0.59, 0.66, 0.79, 0.97],
    [0.21, 0.34, 0.43, 0.48, 0.58, 0.65, 0.77, 0.87], [0.27, 0.38, 0.43, 0.52, 0.58, 0.69, 0.79, 1.02],
    [0.14, 0.34, 0.43, 0.49, 0.59, 0.66, 0.79, 0.89], [0.26, 0.35, 0.44, 0.50, 0.60, 0.67, 0.80, 0.94],
    [0.21, 0.36, 0.41, 0.51, 0.57, 0.68, 0.76, 0.89], [0.26, 0.37, 0.42, 0.52, 0.58, 0.69, 0.78, 0.95],
    [0.12, 0.33, 0.42, 0.48, 0.58, 0.65, 0.77, 0.85], [0.25, 0.36, 0.41, 0.51, 0.57, 0.68, 0.76, 0.91],
    [0.17, 0.33, 0.42, 0.48, 0.58, 0.65, 0.76, 0.84], [0.27, 0.35, 0.44, 0.49, 0.59, 0.66, 0.78, 0.86],
    [0.23, 0.34, 0.43, 0.49, 0.56, 0.67, 0.74, 0.80],
]
nano_odd = [
    [0.25, 0.48, 0.57, 0.64, 0.72, 0.82], [0.43, 0.53, 0.60, 0.68, 0.76, 0.90], [0.32, 0.54, 0.62, 0.70, 0.80, 1.00],
    [0.48, 0.57, 0.64, 0.72, 0.82, 0.98], [0.30, 0.58, 0.67, 0.76, 0.86, 1.12], [0.44, 0.60, 0.68, 0.77, 0.88, 1.08],
    [0.36, 0.61, 0.70, 0.79, 0.90, 1.28], [0.53, 0.62, 0.71, 0.80, 0.92, 1.15], [0.25, 0.61, 0.71, 0.81, 0.94, 1.40],
    [0.49, 0.63, 0.72, 0.82, 0.95, 1.22], [0.39, 0.63, 0.73, 0.83, 0.97, 1.33], [0.54, 0.65, 0.74, 0.84, 0.98, 1.18],
    [0.20, 0.64, 0.74, 0.84, 0.99, 1.45], [0.50, 0.65, 0.75, 0.85, 0.99, 1.20], [0.42, 0.63, 0.72, 0.82, 0.95, 1.36],
    [0.55, 0.62, 0.71, 0.81, 0.93, 1.17], [0.27, 0.60, 0.70, 0.80, 0.92, 1.28], [0.47, 0.57, 0.67, 0.77, 0.88, 1.10],
    [0.36, 0.55, 0.64, 0.73, 0.84, 1.22], [0.43, 0.53, 0.61, 0.70, 0.80, 0.98], [0.25, 0.51, 0.60, 0.68, 0.78, 1.15],
    [0.40, 0.50, 0.58, 0.67, 0.76, 0.95], [0.33, 0.49, 0.58, 0.66, 0.75, 1.30], [0.42, 0.50, 0.58, 0.66, 0.75, 0.93],
    [0.28, 0.49, 0.57, 0.65, 0.74, 1.10], [0.37, 0.50, 0.58, 0.66, 0.75, 0.96], [0.20, 0.49, 0.57, 0.66, 0.75, 1.20],
    [0.41, 0.50, 0.59, 0.67, 0.76, 0.98], [0.30, 0.51, 0.59, 0.68, 0.77, 1.15], [0.44, 0.52, 0.60, 0.69, 0.78, 1.00],
    [0.33, 0.51, 0.60, 0.68, 0.77, 1.26], [0.40, 0.50, 0.58, 0.67, 0.76, 0.96], [0.24, 0.49, 0.57, 0.66, 0.75, 1.12],
    [0.41, 0.50, 0.59, 0.67, 0.76, 1.00], [0.35, 0.50, 0.59, 0.67, 0.76, 1.38], [0.39, 0.49, 0.58, 0.66, 0.76, 0.98],
    [0.27, 0.47, 0.56, 0.64, 0.74, 1.15], [0.37, 0.46, 0.55, 0.63, 0.72, 0.94], [0.22, 0.45, 0.53, 0.62, 0.71, 1.06],
    [0.35, 0.43, 0.51, 0.60, 0.69, 0.88], [0.28, 0.42, 0.50, 0.58, 0.67, 0.98], [0.35, 0.42, 0.50, 0.58, 0.66, 0.86],
    [0.22, 0.40, 0.48, 0.56, 0.65, 0.95], [0.31, 0.39, 0.47, 0.55, 0.64, 0.83], [0.20, 0.38, 0.46, 0.54, 0.63, 0.90],
    [0.30, 0.37, 0.45, 0.53, 0.61, 0.78], [0.23, 0.37, 0.44, 0.52, 0.60, 0.88], [0.29, 0.36, 0.43, 0.51, 0.59, 0.76],
    [0.19, 0.35, 0.43, 0.51, 0.59, 0.84], [0.28, 0.36, 0.43, 0.50, 0.58, 0.74], [0.21, 0.35, 0.42, 0.50, 0.58, 0.82],
    [0.29, 0.36, 0.43, 0.50, 0.58, 0.73], [0.17, 0.36, 0.44, 0.51, 0.59, 0.85], [0.30, 0.37, 0.44, 0.52, 0.60, 0.76],
    [0.22, 0.36, 0.43, 0.51, 0.59, 0.90], [0.29, 0.37, 0.44, 0.52, 0.60, 0.78], [0.20, 0.36, 0.44, 0.52, 0.60, 0.88],
    [0.31, 0.38, 0.45, 0.53, 0.61, 0.79], [0.24, 0.37, 0.44, 0.52, 0.60, 0.86], [0.30, 0.37, 0.45, 0.53, 0.61, 0.78],
    [0.18, 0.37, 0.45, 0.53, 0.61, 0.94], [0.29, 0.37, 0.45, 0.53, 0.61, 0.78], [0.21, 0.37, 0.45, 0.53, 0.61, 0.88],
    [0.30, 0.38, 0.46, 0.54, 0.62, 0.80], [0.22, 0.38, 0.46, 0.54, 0.63, 0.92], [0.31, 0.39, 0.47, 0.55, 0.64, 0.84],
    [0.18, 0.39, 0.47, 0.56, 0.65, 0.97], [0.31, 0.40, 0.48, 0.56, 0.65, 0.85], [0.23, 0.39, 0.47, 0.56, 0.65, 0.96],
    [0.30, 0.39, 0.47, 0.55, 0.64, 0.82], [0.16, 0.39, 0.47, 0.55, 0.64, 0.93], [0.29, 0.38, 0.46, 0.55, 0.63, 0.81],
    [0.22, 0.38, 0.46, 0.55, 0.63, 0.90], [0.28, 0.38, 0.46, 0.54, 0.62, 0.80], [0.19, 0.38, 0.46, 0.54, 0.62, 0.86],
    [0.29, 0.38, 0.46, 0.54, 0.62, 0.79],
]


def to_dates(days):
    return START + np.array(days, dtype='timedelta64[D]')


def daily_with_gaps(days, values, n=153):
    """Daily series with NaN on the days without data, so lines break."""
    out = np.full(n, np.nan)
    out[np.array(days)] = values
    return out


def style_axis(ax, title, ylabel):
    ax.set_title(title, fontsize=12)
    ax.set_ylabel(ylabel, fontsize=10)
    ax.spines['top'].set_visible(False)
    ax.spines['right'].set_visible(False)
    ax.xaxis.set_major_locator(mdates.MonthLocator())
    ax.xaxis.set_major_formatter(mdates.DateFormatter('%B'))
    x0 = mdates.date2num(START)
    ax.set_xlim(x0 - 7.6, x0 + 159.6)
    ax.tick_params(labelsize=10)


def add_storms(ax, text_y, top, tips):
    # text centred between the two storm dates
    ax.text(to_dates([76])[0], text_y, 'May storms', color='red', fontsize=10,
            ha='center', va='center')
    for day, tip in zip([71, 82], tips):
        ax.annotate('', xy=(to_dates([day])[0], tip), xytext=(to_dates([day])[0], top),
                    arrowprops=dict(arrowstyle='->', color='red', lw=1.2))


def scatter_rows(ax, days, rows):
    for day, vals in zip(days, rows):
        ax.plot(to_dates([day] * len(vals)), vals, '+', color='m', ms=2.0,
                mew=0.6, alpha=0.6, zorder=1)


def chl_panel(ax, even, odd, mean, obs, title, ylim, yticks, fmt, storm):
    scatter_rows(ax, even_days, even)
    scatter_rows(ax, odd_days, odd)
    ax.plot(to_dates(mean_days), mean, '-o', color='b', lw=1, ms=5, zorder=3)
    ax.plot(to_dates(mean_days), daily_with_gaps(obs21_days, obs), '-o', color='k',
            lw=1, ms=5, zorder=4)
    ax.set_ylim(*ylim)
    ax.set_yticks(yticks)
    ax.set_yticklabels([fmt % t for t in yticks])
    style_axis(ax, title, 'mg/m$^3$')
    handles = [Line2D([], [], color='m', marker='.', ms=2, ls='none'),
               Line2D([], [], color='b', alpha=0.6, lw=1.5),
               Line2D([], [], color='k', alpha=0.6, lw=1.5)]
    ax.legend(handles, ['individual 1998:2020', 'mean 1998:2020', '2021'],
              loc='upper right', fontsize=10)
    add_storms(ax, *storm)


fig = plt.figure(figsize=(6.66, 8.34), dpi=100)
ax_a = fig.add_axes([0.1036, 0.7050, 0.8754, 0.2602])
ax_b = fig.add_axes([0.1036, 0.3657, 0.8754, 0.2614])
ax_c = fig.add_axes([0.1036, 0.0300, 0.8754, 0.2602])

# (a) SST
for vals in sst_years:
    ax_a.plot(to_dates(sst_days), vals, color='m', lw=0.7, alpha=0.4)
ax_a.plot(to_dates(sst21_days), sst21, color='k', lw=1.2)
ax_a.set_ylim(4.65, 20.15)
ax_a.set_yticks(range(6, 21, 2))
style_axis(ax_a, '(a) Reanalysis SST for Clyde Sea', 'SST (°C)')
ax_a.legend([Line2D([], [], color='m', alpha=0.3, lw=1),
             Line2D([], [], color='k', alpha=0.8, lw=1.5)],
            ['individual years 1998:2021', '2021'], loc='upper left', fontsize=10)
add_storms(ax_a, 15.27, 14.4, [10.7, 10.7])

# (b) diatoms, (c) nanophytoplankton
chl_panel(ax_b, diatom_even, diatom_odd, diatom_mean, diatom21,
          '(b) diatom Chl-a for Clyde Sea', (0, 4.0), np.arange(0, 4.01, 0.5), '%.1f',
          (3.14, 3.01, [2.09, 1.30]))
chl_panel(ax_c, nano_even, nano_odd, nano_mean, nano21,
          '(c) nanophytoplankton Chl-a for Clyde Sea', (0, 2.0), np.arange(0, 2.01, 0.25), '%.2f',
          (1.57, 1.50, [1.05, 0.65]))

plt.savefig('out.png', dpi=100)
